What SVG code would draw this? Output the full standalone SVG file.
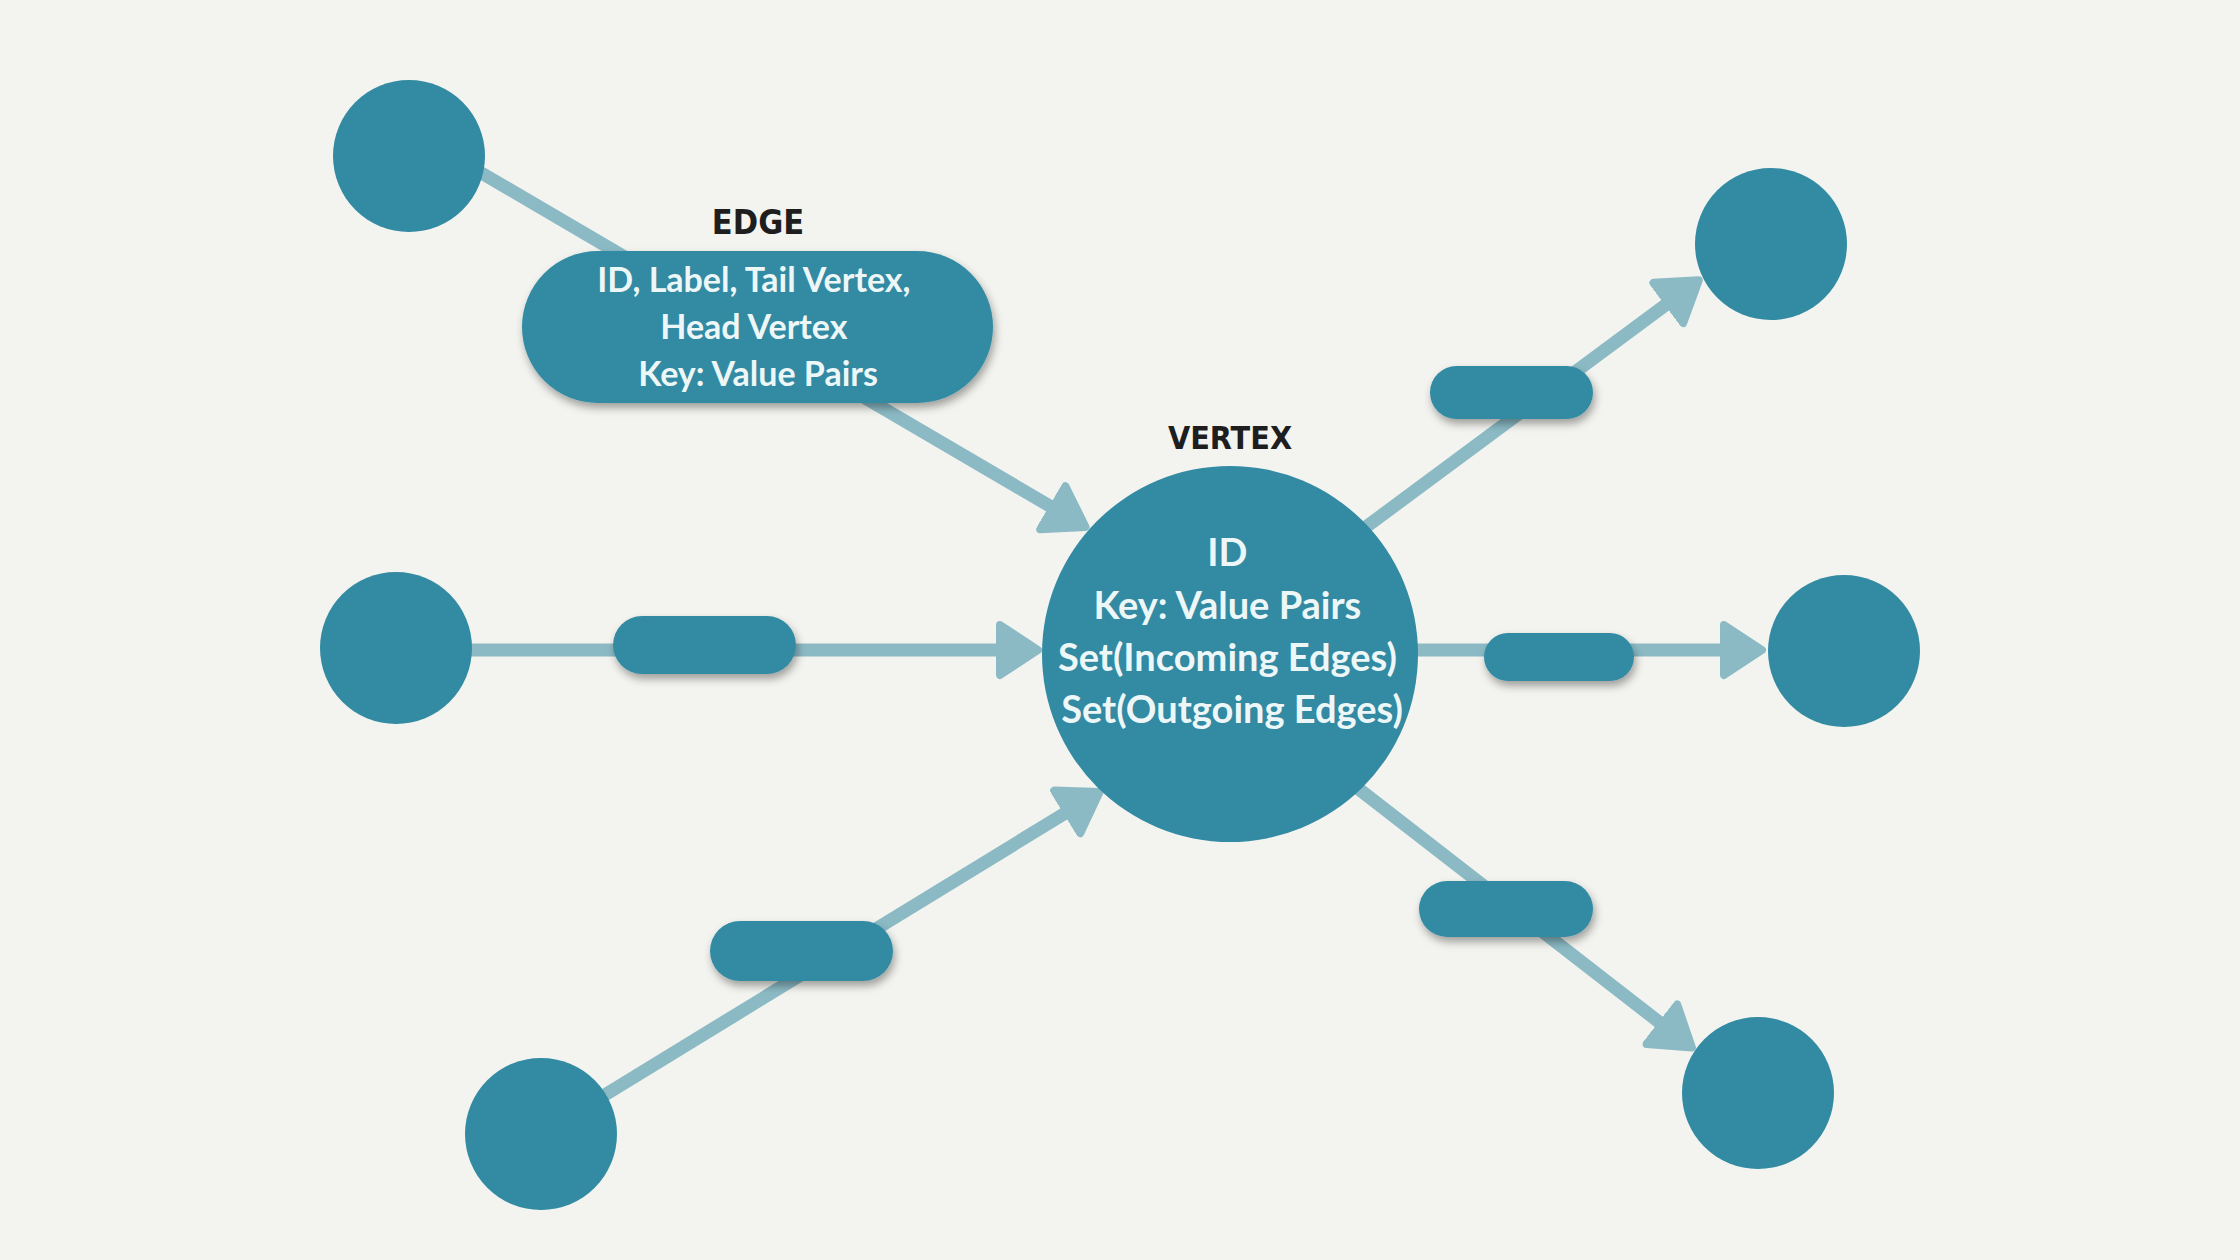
<svg xmlns="http://www.w3.org/2000/svg" width="2240" height="1260" viewBox="0 0 2240 1260">
  <defs>
    <style>
      .node { fill: #328AA3; }
      .conn { stroke: #8BBAC5; stroke-width: 13; fill: none; }
      .pill { fill: #328AA3; filter: url(#shadow); }
      .txt { fill: #EEF7F8; font-family: Lato, "Open Sans", sans-serif; font-weight: 700; text-anchor: middle; }
      .title { fill: #1E1E1E; font-family: "Liberation Sans Narrow", "DejaVu Sans Condensed", "Liberation Sans", sans-serif; font-weight: 700; text-anchor: middle; }
    </style>
    <filter id="shadow" x="-20%" y="-40%" width="140%" height="190%">
      <feDropShadow dx="2" dy="5" stdDeviation="4" flood-color="#000" flood-opacity="0.35"/>
    </filter>
    <marker id="arrow" markerUnits="userSpaceOnUse" viewBox="0 0 50 60" markerWidth="50" markerHeight="60" refX="14" refY="29" orient="auto">
      <path d="M4,4 L42,29 L4,54 Z" fill="#8BBAC5" stroke="#8BBAC5" stroke-width="8" stroke-linejoin="round"/>
    </marker>
  </defs>
  <rect width="2240" height="1260" fill="#F3F4EF"/>

  <g id="connectors">
    <line class="conn" x1="420" y1="137" x2="1061.4" y2="512.8" marker-end="url(#arrow)"/>
    <line class="conn" x1="396" y1="650" x2="1010" y2="650" marker-end="url(#arrow)"/>
    <line class="conn" x1="541" y1="1134" x2="1075.7" y2="806.7" marker-end="url(#arrow)"/>
    <line class="conn" x1="1343" y1="544" x2="1676.3" y2="297" marker-end="url(#arrow)"/>
    <line class="conn" x1="1400" y1="650" x2="1734" y2="650" marker-end="url(#arrow)"/>
    <line class="conn" x1="1333" y1="769" x2="1669.8" y2="1030.4" marker-end="url(#arrow)"/>
  </g>

  <g id="node-top-left"><circle class="node" cx="409" cy="156" r="76"/></g>
  <g id="node-mid-left"><circle class="node" cx="396" cy="648" r="76"/></g>
  <g id="node-bottom-left"><circle class="node" cx="541" cy="1134" r="76"/></g>
  <g id="node-top-right"><circle class="node" cx="1771" cy="244" r="76"/></g>
  <g id="node-mid-right"><circle class="node" cx="1844" cy="651" r="76"/></g>
  <g id="node-bottom-right"><circle class="node" cx="1758" cy="1093" r="76"/></g>

  <g id="vertex">
    <text class="title" x="1230" y="449" font-size="32">VERTEX</text>
    <circle class="node" cx="1230" cy="654" r="188"/>
    <text class="txt" font-size="38">
      <tspan x="1232" y="566">ID</tspan>
      <tspan x="1232" y="619">Key: Value Pairs</tspan>
      <tspan x="1232" y="671">Set(Incoming Edges)</tspan>
      <tspan x="1232" y="723">Set(Outgoing Edges)</tspan>
    </text>
  </g>

  <g id="edge">
    <text class="title" x="758" y="234" font-size="34">EDGE</text>
    <rect class="pill" x="522" y="251" width="471" height="152" rx="76"/>
    <text class="txt" font-size="34">
      <tspan x="758" y="292">ID, Label, Tail Vertex,</tspan>
      <tspan x="758" y="339">Head Vertex</tspan>
      <tspan x="758" y="386">Key: Value Pairs</tspan>
    </text>
  </g>

  <g id="label-mid-left"><rect class="pill" x="613" y="616" width="183" height="58" rx="29"/></g>
  <g id="label-bottom-left"><rect class="pill" x="710" y="921" width="183" height="60" rx="30"/></g>
  <g id="label-top-right"><rect class="pill" x="1430" y="366" width="163" height="53" rx="26.5"/></g>
  <g id="label-mid-right"><rect class="pill" x="1484" y="633" width="150" height="48" rx="24"/></g>
  <g id="label-bottom-right"><rect class="pill" x="1419" y="881" width="174" height="56" rx="28"/></g>
</svg>
